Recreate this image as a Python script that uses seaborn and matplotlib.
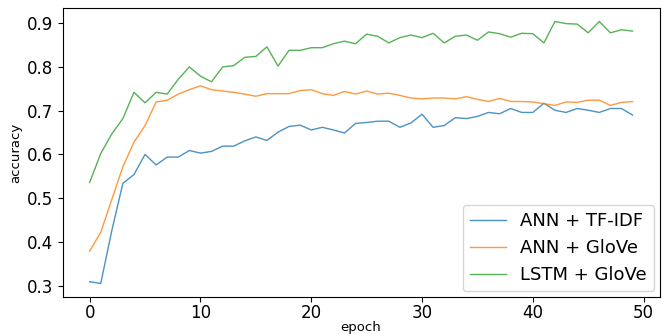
import pandas as pd
import matplotlib.pyplot as plt
import seaborn as sns
import numpy as np

# accuracy per epoch
epochs = list(range(50))

ann_tfidf = [0.309, 0.305, 0.426, 0.534, 0.554, 0.600, 0.576, 0.594, 0.594, 0.609,
             0.603, 0.607, 0.619, 0.619, 0.631, 0.640, 0.632, 0.651, 0.664, 0.667,
             0.656, 0.662, 0.656, 0.649, 0.671, 0.673, 0.676, 0.676, 0.662, 0.672,
             0.692, 0.662, 0.666, 0.684, 0.682, 0.687, 0.696, 0.693, 0.705, 0.696,
             0.696, 0.717, 0.701, 0.696, 0.705, 0.701, 0.696, 0.705, 0.705, 0.690]

ann_glove = [0.379, 0.422, 0.497, 0.572, 0.628, 0.666, 0.720, 0.724, 0.738, 0.748,
             0.757, 0.748, 0.745, 0.742, 0.738, 0.733, 0.739, 0.739, 0.739, 0.746,
             0.748, 0.739, 0.735, 0.744, 0.738, 0.745, 0.738, 0.740, 0.735, 0.729,
             0.727, 0.729, 0.729, 0.727, 0.732, 0.726, 0.721, 0.728, 0.721, 0.721,
             0.720, 0.716, 0.712, 0.720, 0.719, 0.724, 0.724, 0.712, 0.719, 0.721]

lstm_glove = [0.536, 0.602, 0.647, 0.682, 0.742, 0.718, 0.742, 0.738, 0.772, 0.800,
              0.779, 0.766, 0.800, 0.803, 0.822, 0.824, 0.846, 0.802, 0.838, 0.838,
              0.844, 0.844, 0.853, 0.859, 0.853, 0.875, 0.870, 0.855, 0.867, 0.873,
              0.867, 0.877, 0.855, 0.870, 0.873, 0.861, 0.880, 0.876, 0.868, 0.877,
              0.876, 0.855, 0.904, 0.899, 0.898, 0.878, 0.904, 0.878, 0.885, 0.882]

labels = ['ANN + TF-IDF', 'ANN + GloVe', 'LSTM + GloVe']

# Build a long-form table for seaborn
frames = []
for name, vals in zip(labels, [ann_tfidf, ann_glove, lstm_glove]):
    frames.append(pd.DataFrame({'epoch': epochs, 'accuracy': vals, 'model': name}))
df = pd.concat(frames, ignore_index=True)

fig, ax = plt.subplots(figsize=(6.65, 3.34), dpi=100)
sns.lineplot(data=df, x='epoch', y='accuracy', hue='model', hue_order=labels,
             palette=['#1f77b4', '#ff7f0e', '#2ca02c'], linewidth=1.0, alpha=0.8, ax=ax)

ax.set_xticks([0, 10, 20, 30, 40, 50])
ax.set_yticks([0.3, 0.4, 0.5, 0.6, 0.7, 0.8, 0.9])
ax.tick_params(labelsize=12)
ax.tick_params(axis='x', pad=2)
ax.set_xlabel('epoch', fontsize=9.5, labelpad=-1)
ax.set_ylabel('accuracy', fontsize=9.5, labelpad=3)
ax.legend(loc='lower right', fontsize=13, title=None, borderaxespad=0.3)

plt.subplots_adjust(left=0.094, right=0.992, top=0.975, bottom=0.112)
plt.savefig('out.png', dpi=100)
plt.close()
